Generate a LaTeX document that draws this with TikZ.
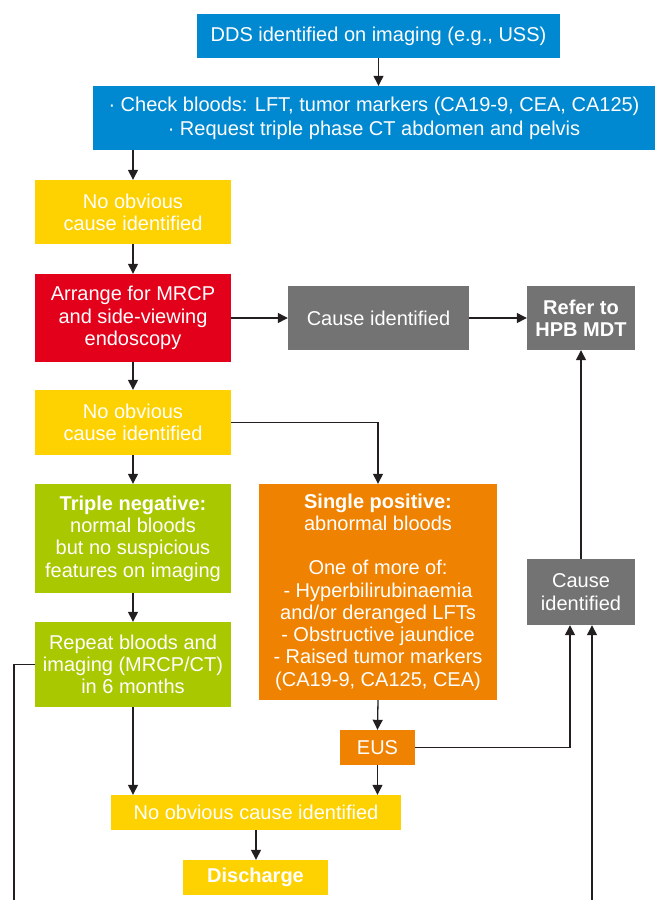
\documentclass[tikz,border=0pt]{standalone}
\usepackage{fontspec}
\setmainfont{Liberation Sans}
\usetikzlibrary{arrows.meta}
\definecolor{cblue}{HTML}{0089D0}
\definecolor{cyel}{HTML}{FED100}
\definecolor{cred}{HTML}{E2001A}
\definecolor{cgray}{HTML}{737373}
\definecolor{cgreen}{HTML}{A9C800}
\definecolor{corange}{HTML}{EF8200}
\definecolor{cline}{HTML}{231F20}
\tikzset{
  box/.style={draw=none, text=white, align=center, inner sep=1pt,
    font=\fontsize{20}{22.3}\selectfont},
  conn/.style={draw=cline, line width=1.3pt},
  arr/.style={conn, -{Triangle[length=10pt,width=10pt]}},
}
\begin{document}
\begin{tikzpicture}[x=1pt,y=-1pt]
\useasboundingbox (0,0) rectangle (655,900);
\node[box, fill=cblue, minimum width=363pt, minimum height=44pt] (dds) at (378.5,36) {DDS identified on imaging (e.g., USS)};
\node[box, fill=cblue, minimum width=562pt, minimum height=64pt] (chk) at (374,118) {·\ Check bloods: LFT, tumor markers (CA19-9, CEA, CA125)\\[2pt] ·\ Request triple phase CT abdomen and pelvis};
\node[box, fill=cyel, minimum width=196pt, minimum height=64pt] (no1) at (133,212) {No obvious\\cause identified};
\node[box, fill=cred, minimum width=196pt, minimum height=88pt] (mrcp) at (133,318) {Arrange for MRCP\\and side-viewing\\endoscopy};
\node[box, fill=cgray, minimum width=181pt, minimum height=64pt] (cause1) at (378.5,318) {Cause identified};
\node[box, fill=cgray, minimum width=108pt, minimum height=64pt] (hpb) at (581,318) {\textbf{Refer to}\\\textbf{HPB MDT}};
\node[box, fill=cyel, minimum width=196pt, minimum height=65pt] (no2) at (133,422.5) {No obvious\\cause identified};
\node[box, fill=cgreen, minimum width=196pt, minimum height=109pt] (trip) at (133,538.5) {\textbf{Triple negative:}\\normal bloods\\but no suspicious\\features on imaging};
\node[box, fill=corange, minimum width=238pt, minimum height=216pt] (single) at (378,592) {\textbf{Single positive:}\\abnormal bloods\\[22pt]One of more of:\\- Hyperbilirubinaemia\\and/or deranged LFTs\\- Obstructive jaundice\\- Raised tumor markers\\(CA19-9, CA125, CEA)};
\node[box, fill=cgray, minimum width=108pt, minimum height=66pt] (cause2) at (581,592) {Cause\\identified};
\node[box, fill=cgreen, minimum width=196pt, minimum height=85pt] (rep) at (133,664.5) {Repeat bloods and\\imaging (MRCP/CT)\\in 6 months};
\node[box, fill=corange, minimum width=75pt, minimum height=35pt] (eus) at (377.5,747.5) {EUS};
\node[box, fill=cyel, minimum width=290pt, minimum height=35pt] (no3) at (256,812.5) {No obvious cause identified};
\node[box, fill=cyel, minimum width=145pt, minimum height=35pt] (dis) at (255.5,877.5) {\textbf{Discharge}};
\coordinate (eusbend) at (570,747.5);
\coordinate (leftbend) at (14,664.5);
\coordinate (leftend) at (14,900);
\coordinate (rightend) at (592,900);
\draw[arr] (dds.south) -- (dds.south |- chk.north);
\draw[arr] (no1.north |- chk.south) -- (no1.north);
\draw[arr] (no1.south) -- (mrcp.north);
\draw[arr] (mrcp.south) -- (no2.north);
\draw[arr] (no2.south) -- (trip.north);
\draw[arr] (trip.south) -- (rep.north);
\draw[arr] (mrcp.east) -- (cause1.west);
\draw[arr] (cause1.east) -- (hpb.west);
\draw[arr] (no2.east) -| (single.north);
\draw[arr] (cause2.north) -- (hpb.south);
\draw[arr] (rep.south) -- (rep.south |- no3.north);
\draw[arr] (single.south) -- (eus.north);
\draw[arr] (eus.south) -- (eus.south |- no3.north);
\draw[arr] (eus.east) -- (eusbend) -- (eusbend |- cause2.south);
\draw[arr] (no3.south) -- (no3.south |- dis.north);
\draw[conn] (rep.west) -- (leftbend) -- (leftend);
\draw[arr] (rightend) -- (rightend |- cause2.south);
\end{tikzpicture}
\end{document}
